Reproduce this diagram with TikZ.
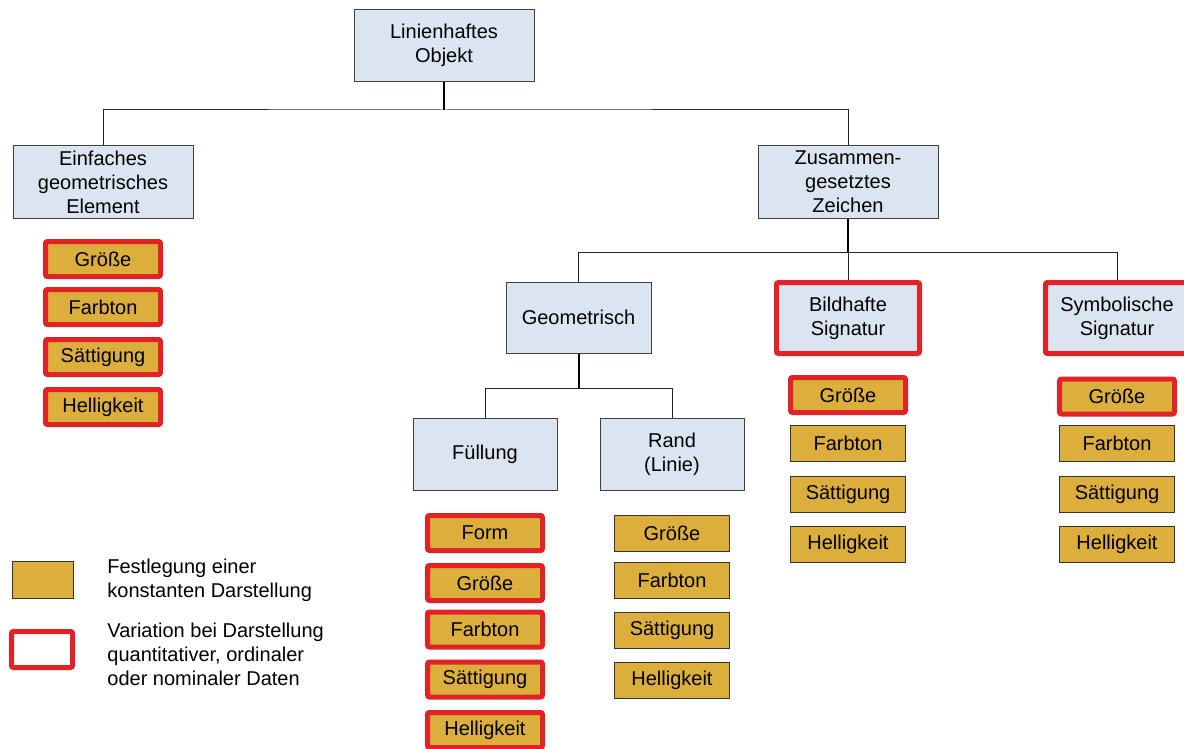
\documentclass[tikz,border=0pt]{standalone}
\usepackage{fontspec}
\setmainfont{Liberation Sans}
\definecolor{boxblau}{RGB}{219,229,241}
\definecolor{gold}{RGB}{220,174,60}
\definecolor{signalrot}{RGB}{225,35,40}
\begin{document}
\begin{tikzpicture}[x=0.5pt, y=-0.5pt,
		every node/.style={font=\fontsize{10pt}{12pt}\selectfont, align=center, inner sep=0pt},
		objbox/.style={draw=black!75, line width=0.5pt, fill=boxblau, minimum width=90pt, minimum height=36pt},
		attr/.style={draw=black!80, line width=0.5pt, fill=gold, minimum width=57.5pt, minimum height=18pt},
		varattr/.style={attr, draw=signalrot, line width=2.5pt, rounded corners=1pt, minimum height=17.5pt},
		stamm/.style={line width=1pt, black},
		ast/.style={line width=0.5pt, black!85}]
	% 1. 画布边界
	\useasboundingbox (0,0) rectangle (1184,749);
	
	% 2. 对象层级框
	\node[objbox] (objekt) at (444,45.5) {Linienhaftes\\Objekt};
	\node[objbox] (einfach) at (103,182) {Einfaches\\geometrisches\\Element};
	\node[objbox] (zusammen) at (848,182) {Zusammen-\\gesetztes\\Zeichen};
	\node[objbox, minimum width=72.5pt, minimum height=35.5pt] (geom) at (578.5,317.5) {Geometrisch};
	\node[objbox, draw=signalrot, line width=2.5pt, rounded corners=1pt, minimum width=71.5pt, minimum height=35.5pt] (bild) at (848,318) {Bildhafte\\Signatur};
	\node[objbox, draw=signalrot, line width=2.5pt, rounded corners=1pt, minimum width=71.5pt, minimum height=35.5pt] (symb) at (1117,318) {Symbolische\\Signatur};
	\node[objbox, minimum width=72pt] (fuell) at (485,454) {Füllung};
	\node[objbox, minimum width=72pt] (rand) at (672,454) {Rand\\(Linie)};
	
	% 3. 树状连线 (父节点竖线加粗, 分支细线)
	\draw[stamm] (objekt.south) -- ++(0,28) coordinate (k1);
	\draw[ast] (einfach.north) |- (k1) -| (zusammen.north);
	\draw[stamm] (zusammen.south) -- ++(0,34) coordinate (k2);
	\draw[ast] (geom.north) |- (k2) -| (symb.north);
	\draw[ast] (k2) -- (bild.north);
	\draw[stamm] (geom.south) -- ++(0,35) coordinate (k3);
	\draw[ast] (fuell.north) |- (k3) -| (rand.north);
	
	% 4. 视觉变量 (红框 = 可变, 无红框 = 固定)
	\node[varattr] (e1) at (103,259) {Größe};
	\node[varattr] (e2) at (103,307) {Farbton};
	\node[varattr] (e3) at (103,357) {Sättigung};
	\node[varattr] (e4) at (103,407) {Helligkeit};
	
	\node[varattr] (f1) at (485,533) {Form};
	\node[varattr] (f2) at (485,583) {Größe};
	\node[varattr] (f3) at (485,629.5) {Farbton};
	\node[varattr] (f4) at (485,679.5) {Sättigung};
	\node[varattr] (f5) at (485,730) {Helligkeit};
	
	\node[attr] (r1) at (672,533) {Größe};
	\node[attr] (r2) at (672,580) {Farbton};
	\node[attr] (r3) at (672,630) {Sättigung};
	\node[attr] (r4) at (672,680) {Helligkeit};
	
	\node[varattr] (b1) at (848,395) {Größe};
	\node[attr] (b2) at (848,443.5) {Farbton};
	\node[attr] (b3) at (848,494) {Sättigung};
	\node[attr] (b4) at (848,544) {Helligkeit};
	
	\node[varattr] (s1) at (1117,396.5) {Größe};
	\node[attr] (s2) at (1117,443.5) {Farbton};
	\node[attr] (s3) at (1117,494) {Sättigung};
	\node[attr] (s4) at (1117,544) {Helligkeit};
	
	% 5. 图例
	\node[attr, minimum width=30.5pt, minimum height=18.5pt] (lgfest) at (42.5,579.5) {};
	\node[varattr, fill=white, minimum width=30.5pt, minimum height=18pt] (lgvar) at (42,649.5) {};
	\node[anchor=west, align=left] (txfest) at (107,580) {Festlegung einer\\konstanten Darstellung};
	\node[anchor=west, align=left] (txvar) at (107,654) {Variation bei Darstellung\\quantitativer, ordinaler\\oder nominaler Daten};
\end{tikzpicture}
\end{document}
